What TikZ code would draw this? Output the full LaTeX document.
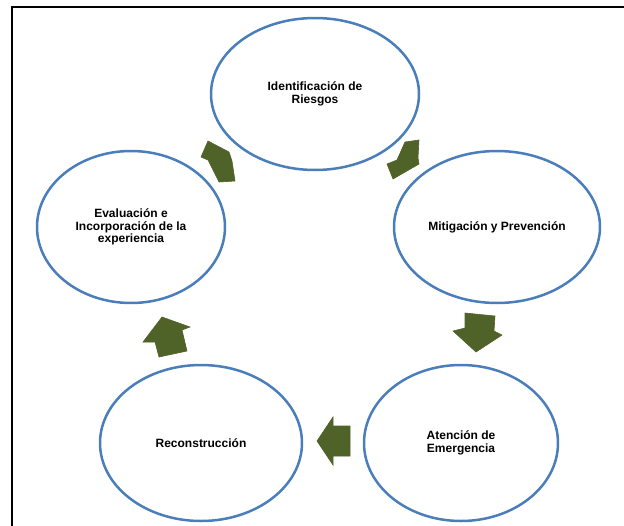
\documentclass[tikz,border=0pt]{standalone}
\usepackage{fontspec}
\usetikzlibrary{shapes.geometric}
\newfontfamily\labelfont{Liberation Sans}
\definecolor{cycblue}{HTML}{4A7EBB}
\definecolor{cycgreen}{HTML}{4F6228}

\begin{document}
\begin{tikzpicture}[x=1pt, y=-1pt,
    stage/.style={draw=cycblue, line width=2.5pt, ellipse, fill=white, inner sep=0pt, align=center,
      font=\labelfont\bfseries\fontsize{12}{12.5}\selectfont},
    blockarrow/.style={fill=cycgreen, draw=cycgreen, line width=0.6pt, line join=miter}]
  \useasboundingbox (0,0) rectangle (624,525);
  % frame
  \draw[line width=2pt] (12,526) -- (12,7) -- (625,7);
  % stages of the cycle
  \node[stage, minimum width=208, minimum height=152] (ident) at (315,94)  {Identificación de\\Riesgos};
  \node[stage, minimum width=206, minimum height=152] (mitig) at (497,227) {Mitigación y Prevención};
  \node[stage, minimum width=194, minimum height=156] (atenc) at (461,443) {Atención de\\Emergencia};
  \node[stage, minimum width=202, minimum height=156] (recon) at (201,443) {Reconstrucción};
  \node[stage, minimum width=188, minimum height=152] (evalu) at (131,227) {Evaluación e\\Incorporación de la\\experiencia};
  % block arrows between the stages
  \fill[blockarrow] (208,141) -- (201,157) -- (208,160) -- (219,182) -- (235,181) -- (232,161) -- (229,152) -- cycle;
  \fill[blockarrow] (405,142) -- (419,140) -- (418,158) -- (419,164) -- (393,179) -- (387,164) -- (397,160) -- cycle;
  \fill[blockarrow] (465,313) -- (495,316) -- (494,331) -- (502,335) -- (476,352) -- (453,331) -- (465,328) -- cycle;
  \fill[blockarrow] (317,441) -- (333,417) -- (333,426) -- (350,426) -- (350,456) -- (333,456) -- (333,465) -- cycle;
  \fill[blockarrow] (162,317) -- (190,327) -- (182,330) -- (187,351) -- (159,357) -- (155,342) -- (143,342) -- cycle;
\end{tikzpicture}
\end{document}
